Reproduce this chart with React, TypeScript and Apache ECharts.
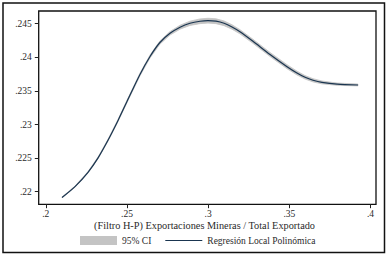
import React, { useEffect, useRef } from "react";
import * as echarts from "echarts";

const xValues = [0.21, 0.218, 0.226, 0.2322, 0.2383, 0.2445, 0.25, 0.258, 0.2642, 0.2703, 0.2765, 0.2827, 0.2888, 0.295, 0.2999, 0.3048, 0.3098, 0.3147, 0.3196, 0.3276, 0.3381, 0.3486, 0.3547, 0.3597, 0.3646, 0.3701, 0.3794, 0.3923];
const fitValues = [0.21914, 0.22076, 0.22289, 0.22504, 0.22765, 0.2306, 0.23342, 0.23744, 0.24012, 0.2422, 0.24357, 0.24448, 0.24506, 0.24536, 0.24545, 0.24537, 0.24506, 0.24451, 0.2438, 0.24238, 0.24042, 0.2386, 0.23766, 0.23702, 0.23658, 0.23626, 0.236, 0.23588];
const ciLower = [0.21908, 0.22068, 0.22279, 0.22492, 0.22751, 0.23044, 0.23324, 0.23724, 0.2399, 0.24196, 0.24331, 0.24419, 0.24474, 0.24501, 0.24509, 0.24501, 0.24471, 0.24418, 0.24349, 0.24208, 0.24012, 0.2383, 0.23738, 0.23676, 0.23634, 0.23605, 0.23583, 0.23574];
const ciUpper = [0.2192, 0.22084, 0.22299, 0.22516, 0.22779, 0.23076, 0.2336, 0.23764, 0.24034, 0.24244, 0.24383, 0.24477, 0.24538, 0.24571, 0.24581, 0.24573, 0.24541, 0.24484, 0.24411, 0.24268, 0.24072, 0.2389, 0.23794, 0.23728, 0.23682, 0.23647, 0.23617, 0.23602];

const xTitle = "(Filtro H-P) Exportaciones Mineras / Total Exportado";
const ciName = "95% CI";
const fitName = "Regresión Local Polinómica";

const FONT = "Liberation Serif";
const TEXT = "#2a2a2a";

const fmt = (v: number, d: number) => v.toFixed(d).replace(/0+$/, "").replace(/^0/, "");

export default function App() {
  const ref = useRef<HTMLDivElement>(null);
  useEffect(() => {
    const chart = echarts.init(ref.current!, null, { renderer: "svg" });
    chart.setOption({
      animation: false,
      backgroundColor: "#fff",
      grid: { left: 45.8, right: 18.5, top: 23.7, bottom: 64.3 },
      xAxis: {
        type: "value",
        min: 0.2,
        max: 0.4,
        interval: 0.05,
        offset: 12.5,
        axisLine: { show: false },
        axisTick: { show: true, length: 4, lineStyle: { color: "#222" } },
        splitLine: { show: false },
        axisLabel: { formatter: (v: number) => fmt(v, 2), fontFamily: FONT, fontSize: 9.5, lineHeight: 10, color: TEXT, margin: 5 },
      },
      yAxis: {
        type: "value",
        min: 0.22,
        max: 0.245,
        interval: 0.005,
        offset: 7,
        axisLine: { show: false },
        axisTick: { show: true, length: 4, lineStyle: { color: "#222" } },
        splitLine: { show: false },
        axisLabel: { formatter: (v: number) => fmt(v, 3), fontFamily: FONT, fontSize: 9.5, color: TEXT, margin: 7 },
      },
      legend: {
        left: 80,
        top: 235.5,
        padding: 0,
        itemWidth: 37,
        itemHeight: 9,
        itemGap: 14,
        textStyle: { fontFamily: FONT, fontSize: 9.5, color: TEXT },
        data: [
          { name: ciName, icon: "rect" },
          { name: fitName, icon: "path://M0,0H37V1.2H0Z" },
        ],
      },
      graphic: [
        { type: "rect", shape: { x: 3, y: 3, width: 381.5, height: 249.5 }, style: { fill: "none", stroke: "#111", lineWidth: 1.5 }, silent: true },
        { type: "rect", shape: { x: 38.7, y: 11, width: 337.3, height: 193.3 }, style: { fill: "none", stroke: "#111", lineWidth: 1.3 }, silent: true },
        { type: "text", x: 204.5, y: 225, style: { text: xTitle, font: `10.3px "${FONT}"`, fill: TEXT, textAlign: "center", textVerticalAlign: "middle" }, silent: true },
      ],
      series: [
        {
          name: ciName,
          type: "custom",
          itemStyle: { color: "#c4c4c4" },
          data: [[0]],
          clip: false,
          renderItem: (_params: any, api: any) => {
            const top = xValues.map((x, i) => api.coord([x, ciUpper[i]]));
            const bot = xValues.map((x, i) => api.coord([x, ciLower[i]])).reverse();
            return {
              type: "polygon",
              shape: { points: top.concat(bot) },
              style: { fill: "#c4c4c4", stroke: "#c4c4c4", lineWidth: 0.8 },
            };
          },
        },
        {
          name: fitName,
          type: "line",
          data: xValues.map((x, i) => [x, fitValues[i]]),
          smooth: 0.25,
          symbol: "none",
          clip: false,
          lineStyle: { color: "#1a3550", width: 1.2 },
          itemStyle: { color: "#1a3550" },
        },
      ],
    });
    return () => chart.dispose();
  }, []);
  return <div ref={ref} style={{ position: "fixed", left: 0, top: 0, width: 389, height: 256 }} />;
}
